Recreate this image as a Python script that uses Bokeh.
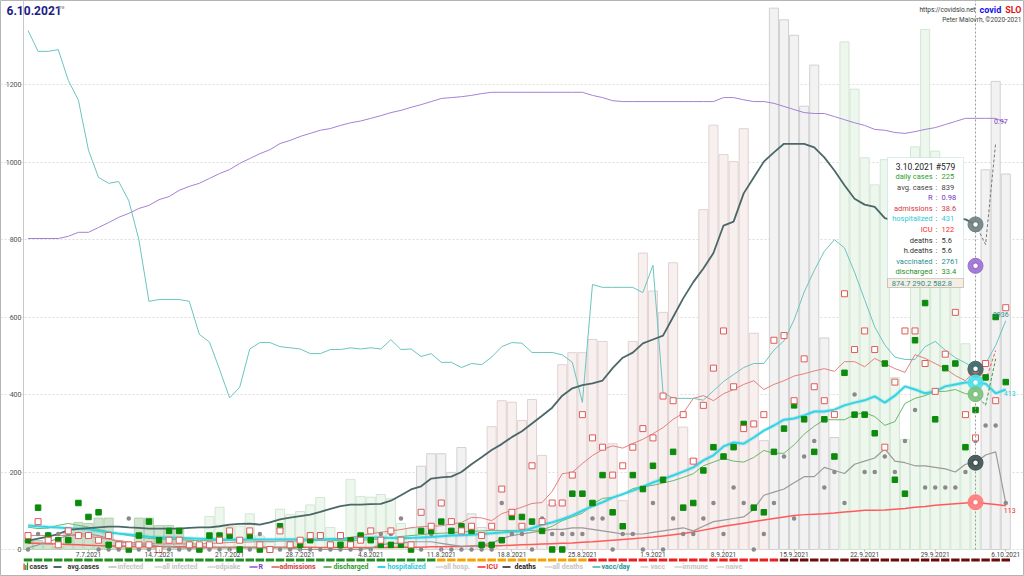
import pandas as pd
from bokeh.plotting import figure
from bokeh.models import ColumnDataSource, FixedTicker, Label, BoxAnnotation, Range1d
from bokeh.embed import file_html
from bokeh.resources import INLINE
from bokeh.core.properties import value

# ---------------- data ----------------
dates = pd.date_range("2021-07-01", "2021-10-06", freq="D")
tick_labels = ["7.7.2021", "14.7.2021", "21.7.2021", "28.7.2021", "4.8.2021", "11.8.2021",
               "18.8.2021", "25.8.2021", "1.9.2021", "8.9.2021", "15.9.2021", "22.9.2021",
               "29.9.2021", "6.10.2021"]

cases = [23, 23, 14, 8, 45, 70, 67, 81, 81, 23,
         10, 81, 81, 62, 62, 55, 25, 12, 85, 109,
         60, 60, 92, 35, 18, 104, 90, 98, 115, 134,
         57, 20, 181, 137, 135, 142, 131, 67, 54, 215,
         247, 247, 199, 263, 92, 57, 317, 384, 380, 333,
         387, 243, 116, 477, 508, 508, 542, 537, 273, 126,
         537, 765, 667, 612, 740, 316, 235, 877, 1095, 1019,
         1001, 1086, 558, 281, 1397, 1367, 1327, 1144, 1250, 546,
         289, 1310, 1188, 1011, 941, 1006, 444, 284, 1039, 1342,
         1028, 1000, 900, 531, 225, 980, 1208, 969]

avg_cases = [23, 28, 33, 40, 50, 53, 55, 57, 59, 59,
             57, 56, 54, 54, 54, 54, 56, 57, 57, 60,
             64, 66, 67, 64, 70, 78, 82, 86, 90, 97,
             105, 112, 116, 116, 117, 118, 126, 140, 155, 163,
             183, 186, 188, 200, 220, 238, 257, 272, 290, 305,
             325, 345, 366, 397, 416, 424, 429, 436, 468, 495,
             508, 532, 542, 552, 600, 648, 690, 725, 765, 836,
             846, 919, 960, 1001, 1025, 1047, 1047, 1047, 1038, 1012,
             978, 940, 905, 890, 884, 855, 848, 846, 848, 850,
             852, 854, 855, 852, 839]

r_eff = [0.704, 0.704, 0.704, 0.704, 0.709, 0.718, 0.718, 0.729, 0.740, 0.752,
         0.761, 0.772, 0.779, 0.792, 0.799, 0.813, 0.822, 0.829, 0.840, 0.851,
         0.860, 0.874, 0.885, 0.896, 0.905, 0.919, 0.926, 0.935, 0.942, 0.949,
         0.953, 0.960, 0.966, 0.970, 0.976, 0.982, 0.989, 0.994, 1.001, 1.007,
         1.014, 1.021, 1.023, 1.025, 1.028, 1.032, 1.035, 1.035, 1.035, 1.035,
         1.035, 1.035, 1.035, 1.035, 1.035, 1.035, 1.028, 1.023, 1.016, 1.014,
         1.014, 1.014, 1.014, 1.014, 1.014, 1.014, 1.014, 1.014, 1.014, 1.023,
         1.023, 1.018, 1.014, 1.014, 1.010, 1.003, 0.996, 0.989, 0.987, 0.987,
         0.980, 0.973, 0.966, 0.960, 0.951, 0.949, 0.944, 0.942, 0.946, 0.951,
         0.955, 0.962, 0.969, 0.976, 0.976, 0.976, 0.976, 0.966]

vacc_day = [8930, 8570, 8570, 8600, 8070, 7730, 6870, 6400, 6300, 6330,
            6000, 5330, 4270, 4300, 4300, 4300, 4270, 3700, 3570, 3100,
            2610, 2790, 3450, 3560, 3560, 3490, 3470, 3450, 3370, 3370,
            3440, 3440, 3470, 3450, 3470, 3450, 3610, 3440, 3450, 3320,
            3370, 3220, 3220, 3130, 3200, 3180, 3310, 3490, 3560, 3550,
            3390, 3390, 3390, 3350, 3220, 2530, 4560, 4510, 4510, 4510,
            4510, 4420, 4890, 2700, 2600, 2600, 2600, 2570, 2730, 2890,
            3010, 3130, 3200, 3200, 3430, 3590, 3950, 4430, 4800, 5130,
            5330, 5190, 4770, 4300, 3830, 3520, 3310, 3270, 3270, 3490,
            3580, 3430, 3300, 3210, 3110, 3200, 3510, 3936]

hospitalized = [62, 60, 58, 57, 55, 54, 52, 48, 44, 41,
                39, 36, 33, 31, 31, 30, 29, 28, 27, 26,
                26, 26, 26, 26, 26, 26, 26, 26, 26, 26,
                27, 27, 28, 30, 31, 31, 30, 30, 30, 31,
                32, 34, 36, 37, 38, 40, 42, 44, 46, 47,
                55, 64, 70, 78, 88, 100, 112, 122, 134, 143,
                152, 162, 173, 182, 191, 201, 212, 230, 243, 266,
                276, 273, 289, 307, 320, 335, 338, 346, 356, 356,
                361, 372, 379, 385, 395, 379, 397, 421, 413, 403,
                408, 421, 426, 431, 431, 428, 403, 413]

icu = [16, 16, 15, 14, 13, 12, 11, 10, 9, 9,
       8, 8, 8, 7, 7, 7, 7, 7, 6, 6,
       6, 6, 6, 6, 6, 6, 6, 6, 6, 5,
       5, 5, 5, 5, 5, 5, 5, 6, 6, 6,
       7, 7, 8, 8, 9, 9, 10, 10, 11, 12,
       13, 14, 15, 16, 17, 19, 20, 22, 24, 26,
       28, 30, 32, 35, 38, 41, 45, 50, 55, 60,
       64, 68, 72, 76, 80, 84, 88, 90, 91, 92,
       94, 97, 99, 101, 101, 102, 104, 106, 109, 111,
       114, 116, 118, 120, 122, 119, 116, 113]

admissions = [3, 6, 2, 1, 4, 3, 3, 2, 3, 1,
              1, 1, 1, 0, 2, 2, 1, 1, 1, 2,
              4, 2, 4, 1, 0, 4, 1, 2, 3, 3,
              1, 3, 1, 2, 4, 2, 4, 2, 1, 8,
              5, 10, 6, 4, 5, 3, 5, 13, 8, 5,
              18, 6, 10, 10, 16, 29, 24, 22, 16, 18,
              22, 26, 24, 33, 32, 29, 19, 31, 39, 47,
              35, 26, 27, 29, 45, 46, 32, 41, 35, 32,
              29, 55, 43, 47, 43, 22, 36, 47, 47, 40,
              34, 42, 51, 29, 24, 40, 32, 52]

admissions_avg = [3.0, 3.0, 3.0, 3.0, 3.0, 3.0, 2.8, 2.5, 2.2, 1.9,
                  1.6, 1.4, 1.3, 1.2, 1.2, 1.2, 1.2, 1.2, 1.3, 1.4,
                  1.5, 1.6, 1.6, 1.7, 1.7, 1.8, 1.8, 1.8, 1.9, 2.0,
                  2.2, 2.4, 2.6, 3.0, 3.4, 3.7, 4.0, 4.3, 4.7, 4.9,
                  5.0, 5.1, 5.5, 5.8, 6.9, 6.8, 6.2, 7.7, 8.4, 9.1,
                  9.9, 10.1, 12.5, 16.3, 16.6, 18.5, 20.2, 21.5, 22.3, 21.8,
                  22.8, 23.7, 24.9, 26.2, 28.0, 29.3, 32.5, 33.1, 32.0, 33.5,
                  34.4, 35.5, 36.3, 34.4, 35.5, 36.3, 37.3, 37.8, 38.4, 38.9,
                  38.3, 40.4, 40.4, 39.3, 41.1, 40.0, 38.9, 38.1, 41.9, 41.1,
                  40.0, 38.9, 37.4, 36.3, 38.6]

discharged = [2, 9, 3, 2, 2, 10, 7, 8, 1, 1,
              0, 3, 6, 2, 4, 4, 1, 0, 3, 3,
              3, 0, 3, 0, 0, 5, 1, 1, 2, 3,
              1, 1, 2, 3, 2, 1, 1, 1, 0, 4,
              4, 6, 4, 5, 4, 1, 1, 2, 7, 7,
              6, 4, 0, 0, 12, 12, 10, 16, 8, 5,
              16, 13, 18, 15, 21, 9, 10, 17, 22, 20,
              22, 27, 9, 8, 21, 26, 31, 28, 21, 28,
              20, 38, 29, 29, 25, 40, 15, 12, 45, 53,
              28, 39, 40, 22, 30, 37, 50, 36]

discharged_avg = [4.8, 4.5, 4.6, 5.2, 5.6, 5.2, 4.8, 4.3, 3.8, 3.4,
                  3.0, 2.7, 2.4, 2.3, 2.2, 2.1, 2.0, 1.9, 1.9, 1.9,
                  2.0, 2.0, 2.1, 2.1, 2.1, 2.2, 2.2, 2.2, 2.1, 2.0,
                  2.0, 1.9, 1.9, 2.0, 2.1, 2.3, 2.5, 2.8, 3.0, 3.2,
                  3.4, 3.5, 3.6, 3.8, 3.9, 4.0, 4.1, 4.1, 4.1, 4.1,
                  4.1, 4.2, 5.0, 6.2, 7.0, 7.8, 9.8, 11.0, 11.2, 11.8,
                  13.1, 13.5, 13.8, 14.3, 14.8, 15.5, 16.3, 18.0, 18.8, 19.6,
                  19.0, 18.8, 19.8, 21.3, 20.7, 20.7, 22.5, 24.8, 26.5, 27.9,
                  27.9, 27.9, 29.0, 29.4, 28.6, 26.7, 27.5, 31.4, 32.5, 33.1,
                  34.0, 34.0, 34.4, 33.5, 33.4]

deaths = [0, 1, 1, 1, 1, 1, 1, 0, 0, 0,
          2, 0, 0, 0, 0, 0, 0, 0, 0, 0,
          0, 0, 0, 1, 0, 0, 0, 0, 0, 0,
          0, 0, 0, 0, 0, 1, 1, 2, 0, 0,
          1, 0, 0, 0, 0, 0, 0, 3, 1, 1,
          0, 2, 1, 1, 1, 1, 2, 2, 0, 1,
          1, 0, 3, 0, 2, 1, 1, 2, 3, 1,
          4, 3, 0, 1, 3, 6, 2, 6, 7, 4,
          5, 3, 10, 5, 5, 6, 5, 7, 9, 4,
          4, 4, 4, 5, 7, 8, 8, 3]

deaths_avg = [0.1, 0.3, 0.5, 0.7, 0.9, 1.0, 1.0, 0.9, 0.7, 0.5,
              0.4, 0.3, 0.3, 0.2, 0.2, 0.1, 0.1, 0.1, 0.1, 0.1,
              0.1, 0.1, 0.1, 0.1, 0.1, 0.1, 0.1, 0.0, 0.0, 0.0,
              0.0, 0.0, 0.0, 0.0, 0.1, 0.3, 0.4, 0.4, 0.5, 0.5,
              0.5, 0.4, 0.3, 0.2, 0.2, 0.3, 0.4, 0.7, 0.9, 1.0,
              1.1, 1.2, 1.3, 1.3, 1.4, 1.4, 1.3, 1.2, 1.1, 1.0,
              1.0, 1.0, 1.1, 1.2, 1.3, 1.4, 1.2, 1.5, 1.8, 1.9,
              2.0, 2.1, 2.6, 3.5, 3.7, 3.9, 4.3, 4.7, 4.7, 5.3,
              5.1, 4.9, 5.5, 5.7, 5.9, 6.5, 5.7, 5.6, 5.4, 5.4,
              5.3, 5.2, 5.0, 5.5, 5.6, 6.1, 6.3, 3.0]

# projection after the last complete 7-day average (3.10.2021)
proj_days = ["2021-10-03", "2021-10-04", "2021-10-05"]
proj_avg_cases = [839, 787, 1050]
proj_admissions = [38.6, 36.3, 42.8]
proj_discharged = [33.4, 31.0, 41.0]

# weekly trend class of the daily-case bars (Mon-Sun weeks)
week_trend = ["falling", "falling", "falling", "easing", "easing", "easing", "flat",
              "rising", "rising", "rising", "rising", "flat", "easing", "easing", "flat"]
# epidemiological phase (colour strip under the axis)
phase_starts = [("green", "2021-07-01"), ("orange", "2021-08-11"),
                ("red", "2021-08-26"), ("black", "2021-09-14")]

sel_date = "2021-10-03"
sel_number = 579
sel_vaccinated = 2761
sel_footer = ["874.7", "290.2", "582.8"]

legend_names = ["cases", "avg.cases", "infected", "all infected", "odpiake", "R", "admissions",
                "discharged", "hospitalized", "all hosp.", "ICU", "deaths", "all deaths",
                "vacc/day", "vacc", "immune", "naive"]

# ---------------- styling / scales ----------------
ADM_SCALE = 12
DEATH_SCALE = 40
VACC_SCALE = 0.15
R_SCALE = 1140
R_MARK_SCALE = 750
FONT = "Roboto"

W, H = 1024, 576
PX_DAY = 10.08          # pixels per day
X0 = 27.5               # pixel x of the first day
Y0 = 549                # pixel y of value 0
PX_UNIT = 0.3875        # pixels per unit

def X(px):
    return (px - X0) / PX_DAY

def Y(py):
    return (Y0 - py) / PX_UNIT

n = len(dates)
day = list(range(n))
d0 = dates[0]

def didx(s):
    return (pd.Timestamp(s) - d0).days

BAR_FILL = {"falling": "#cfe3cf", "easing": "#eef7ed", "flat": "#f2f2f2", "rising": "#f8efef"}
BAR_LINE = {"falling": "#b5d0b5", "easing": "#d3e6d3", "flat": "#d0d0d0", "rising": "#e0d2d2"}
PHASE_COL = {"green": "#1e8c1e", "orange": "#f5a300", "red": "#ee1c1c", "black": "#6b0a0a"}

week_of = [(d + 3) // 7 for d in day]
bar_fill = [BAR_FILL[week_trend[w]] for w in week_of]
bar_line = [BAR_LINE[week_trend[w]] for w in week_of]

phase_idx = [didx(s) for _, s in phase_starts]
phase_of = []
for d in day:
    k = max(i for i, s in enumerate(phase_idx) if s <= d)
    phase_of.append(PHASE_COL[phase_starts[k][0]])

p = figure(width=W, height=H, x_range=Range1d(X(0), X(W)), y_range=Range1d(Y(H), Y(0)),
           output_backend="svg", toolbar_location=None, min_border=0)
p.outline_line_color = "#b4b4b4"
p.outline_line_width = 1
p.background_fill_color = "white"
p.xgrid.grid_line_color = None
p.ygrid.grid_line_color = "#dcdcdc"
p.ygrid.grid_line_dash = "2 2"

p.yaxis.fixed_location = X(23)
p.yaxis.ticker = FixedTicker(ticks=[0, 200, 400, 600, 800, 1000, 1200])
p.yaxis.major_label_text_font_size = "7px"
p.yaxis.major_label_text_font = FONT
p.yaxis.major_label_text_color = "#555555"
p.yaxis.major_tick_out = 0
p.yaxis.major_tick_in = 0
p.yaxis.minor_tick_out = 0
p.yaxis.minor_tick_in = 0
p.yaxis.major_label_standoff = 2
p.yaxis.axis_line_color = None

tick_days = [didx(pd.to_datetime(t, format="%d.%m.%Y")) for t in tick_labels]
p.xaxis.fixed_location = 0
p.xaxis.ticker = FixedTicker(ticks=tick_days)
p.xaxis.major_label_overrides = {d: t for d, t in zip(tick_days, tick_labels)}
p.xaxis.major_label_text_font_size = "6.5px"
p.xaxis.major_label_text_font = FONT
p.xaxis.major_label_text_color = "#444444"
p.xaxis.major_tick_out = 2
p.xaxis.major_tick_in = 0
p.xaxis.minor_tick_out = 0
p.xaxis.minor_tick_in = 0
p.xaxis.major_label_standoff = 0
p.xaxis.axis_line_color = None
p.xaxis.major_tick_line_color = "#bbbbbb"

# left frame line of the plotting area
p.segment(x0=[X(23)], y0=[0], x1=[X(23)], y1=[Y(0)], line_color="#c8c8c8", line_width=1)

# bars
bsrc = ColumnDataSource(dict(day=day, cases=cases, fill=bar_fill, line=bar_line))
p.vbar(x="day", top="cases", width=0.9, fill_color="fill", line_color="line", line_width=1, source=bsrc)

# lines
dA = day[:len(avg_cases)]
p.line(day, [v * R_SCALE for v in r_eff], line_color="#a77fd6", line_width=1)
p.line(day, [v * VACC_SCALE for v in vacc_day], line_color="#6cc4c0", line_width=1)
p.line(day, icu, line_color="#ff5a5a", line_width=1.5)
p.line(day, [v * DEATH_SCALE for v in deaths_avg], line_color="#9a9a9a", line_width=1.2)
p.line(dA, [v * ADM_SCALE for v in admissions_avg], line_color="#e58080", line_width=1)
p.line(dA, [v * ADM_SCALE for v in discharged_avg], line_color="#6ab86a", line_width=1)
p.line(day, hospitalized, line_color="#35d3e3", line_width=4, line_alpha=0.25)
p.line(day, hospitalized, line_color="#35d3e3", line_width=2)
p.line(dA, avg_cases, line_color="#4b6767", line_width=1.8)

# projections
pd_idx = [didx(s) for s in proj_days]
p.line(pd_idx, proj_avg_cases, line_color="#777777", line_width=1, line_dash="3 2")
p.line(pd_idx, [v * ADM_SCALE for v in proj_admissions], line_color="#e06060", line_width=1, line_dash="3 2")
p.line(pd_idx, [v * ADM_SCALE for v in proj_discharged], line_color="#3a9a3a", line_width=1, line_dash="3 2")

# daily markers
p.scatter(day, [v * DEATH_SCALE for v in deaths], marker="circle", size=4.5,
          fill_color="#8a8a8a", line_color=None)
p.scatter(day, [v * ADM_SCALE for v in discharged], marker="square", size=5.5,
          fill_color="#0b8a0b", line_color="#0b8a0b")
p.scatter(day, [v * ADM_SCALE for v in admissions], marker="square", size=6,
          fill_color="white", line_color="#e05a5a", line_width=1)

# selected day
sd = didx(sel_date)
p.segment(x0=[sd], y0=[0], x1=[sd], y1=[Y(0)], line_color="#999999", line_dash="2 2", line_width=1)
rings = [(avg_cases[sd], "#6f7f7f"), (r_eff[sd] * R_MARK_SCALE, "#9b6fd0"),
         (admissions_avg[sd] * ADM_SCALE, "#e06060"), (vacc_day[sd] * VACC_SCALE, "#3d6f6f"),
         (hospitalized[sd], "#4fe0ea"), (discharged_avg[sd] * ADM_SCALE, "#7cc07c"),
         (deaths_avg[sd] * DEATH_SCALE, "#3f5050"), (icu[sd], "#ff7a7a")]
ry = [r[0] for r in rings]
rc = [r[1] for r in rings]
p.scatter([sd] * len(rings), ry, marker="circle", size=15, fill_color=rc, line_color=rc, fill_alpha=0.9)
p.scatter([sd] * len(rings), ry, marker="circle", size=6, fill_color="white", line_color=rc, line_width=1.5)

# end-of-series value labels
last = n - 1
p.text([last], [r_eff[last] * R_SCALE], text=[f"{r_eff[last]:.2f}"], text_color="#7d3cc8",
       text_font=value(FONT), text_font_size="7px", text_align="center", text_baseline="bottom",
       x_offset=-5, y_offset=1)
p.text([last], [vacc_day[last] * VACC_SCALE], text=[f"{vacc_day[last]}"], text_color="#1f8f8f",
       text_font=value(FONT), text_font_size="7px", text_align="center", text_baseline="middle",
       x_offset=-5, y_offset=-6)
p.text([last], [hospitalized[last]], text=[f"{hospitalized[last]}"], text_color="#2bc9d9",
       text_font=value(FONT), text_font_size="7px", text_align="left", text_baseline="top",
       x_offset=-2, y_offset=2)
p.text([last], [icu[last]], text=[f"{icu[last]}"], text_color="#f21f1f",
       text_font=value(FONT), text_font_size="7px", text_align="left", text_baseline="top",
       x_offset=-2, y_offset=2)

def lab(px, py, text, color, size="7.5px", align="left", style="normal", font=FONT):
    p.add_layout(Label(x=px, y=H - py, x_units="screen", y_units="screen", text=text,
                       text_color=color, text_font_size=size, text_align=align,
                       text_baseline="middle", text_font_style=style, text_font=font))

# header
lab(6, 10, dates[-1].strftime("%-d.%-m.%Y"), "#1c1c86", size="12px", style="bold")
lab(57, 6, "sre", "#888888", size="5px")
lab(975, 9, "https://covidslo.net", "#333333", size="6.5px", align="right")
lab(979, 9, "covid", "#1010e8", size="9px", style="bold")
lab(1021, 9, "SLO", "#e81010", size="9px", style="bold", align="right")
lab(1021, 19, "Peter Malovrh, \u00a92020-2021", "#444444", size="6.5px", align="right")

# tooltip
p.add_layout(BoxAnnotation(left=887, right=963, top=H - 157, bottom=H - 287,
                           left_units="screen", right_units="screen", top_units="screen", bottom_units="screen",
                           fill_color="white", fill_alpha=1, line_color="#7cc9c4", line_width=1))
p.add_layout(BoxAnnotation(left=887, right=963, top=H - 278, bottom=H - 287,
                           left_units="screen", right_units="screen", top_units="screen", bottom_units="screen",
                           fill_color="#f6eee2", fill_alpha=1, line_color="#8a6d5b", line_width=1))
sel_ts = pd.Timestamp(sel_date)
lab(925, 166, f"{sel_ts.day}.{sel_ts.month}.{sel_ts.year} #{sel_number}", "#222222", size="8.5px", align="center")
rows = [("daily cases", f"{cases[sd]}", "#2ca02c"),
        ("avg. cases", f"{avg_cases[sd]}", "#444444"),
        ("R", f"{r_eff[sd]:.2f}", "#6a35c8"),
        ("admissions", f"{admissions_avg[sd]:.1f}", "#d43a3a"),
        ("hospitalized", f"{hospitalized[sd]}", "#2cc8d8"),
        ("ICU", f"{icu[sd]}", "#ff2222"),
        ("deaths", f"{deaths_avg[sd]:.1f}", "#333333"),
        ("h.deaths", f"{deaths_avg[sd]:.1f}", "#333333"),
        ("vaccinated", f"{sel_vaccinated}", "#1f8f8f"),
        ("discharged", f"{discharged_avg[sd]:.1f}", "#1f8f1f")]
for i, (name, val, col) in enumerate(rows):
    yy = 176 + i * 10.6
    lab(932, yy, name, col, size="7.5px", align="right")
    lab(936, yy, ":", "#444444", size="7.5px", align="center")
    lab(941, yy, val, col, size="7.5px", align="left")
lab(925, 282.5, "   ".join(sel_footer), "#1f8f8f", size="7.5px", align="center")

# ---------------- phase strip ----------------
strip_y = Y(559.5)
p.segment(x0=[d - 0.42 for d in day], y0=[strip_y] * n, x1=[d + 0.42 for d in day], y1=[strip_y] * n,
          line_color=phase_of, line_width=3)

# ---------------- legend ----------------
legend_text_col = ["#333333", "#333333", "#c4c4c4", "#c4c4c4", "#c4c4c4", "#7d3cc8", "#d23c3c",
                   "#2a9a2a", "#2bc9d9", "#c4c4c4", "#f21f1f", "#222222", "#c4c4c4",
                   "#249494", "#c4c4c4", "#c4c4c4", "#c4c4c4"]
legend_icon_col = [None, "#4b6767", "#cccccc", "#dddddd", "#dddddd", "#a77fd6", "#e58080",
                   "#6ab86a", "#35d3e3", "#dddddd", "#ff5a5a", "#555555", "#dddddd",
                   "#6cc4c0", "#dddddd", "#dddddd", "#dddddd"]
icon_x = [23, 53, 108, 154, 207, 249, 271, 323, 377, 435, 477, 502, 544, 592, 640, 674, 716]
text_x = [29, 67, 117, 162, 215, 258, 279, 333, 387, 443, 486, 514, 552, 601, 650, 682, 725]
ly = Y(566.5)
seg = [(ix, c) for ix, c in zip(icon_x, legend_icon_col) if c is not None]
p.segment(x0=[X(s[0]) for s in seg], y0=[ly] * len(seg), x1=[X(s[0] + 8) for s in seg], y1=[ly] * len(seg),
          line_color=[s[1] for s in seg], line_width=2)
p.quad(left=[X(icon_x[0] + k * 1.7) for k in range(3)], right=[X(icon_x[0] + k * 1.7 + 1.2) for k in range(3)],
       top=[Y(563), Y(564.5), Y(562)], bottom=[Y(569.5)] * 3,
       fill_color=["#e03030", "#1e8c1e", "#1e8c1e"], line_color=None)
p.text(x=[X(t) for t in text_x], y=[ly] * len(text_x), text=legend_names, text_color=legend_text_col,
       text_font=value(FONT), text_font_size="7px", text_baseline="middle", text_font_style="bold")

open("out.html", "w").write(file_html(p, INLINE))
